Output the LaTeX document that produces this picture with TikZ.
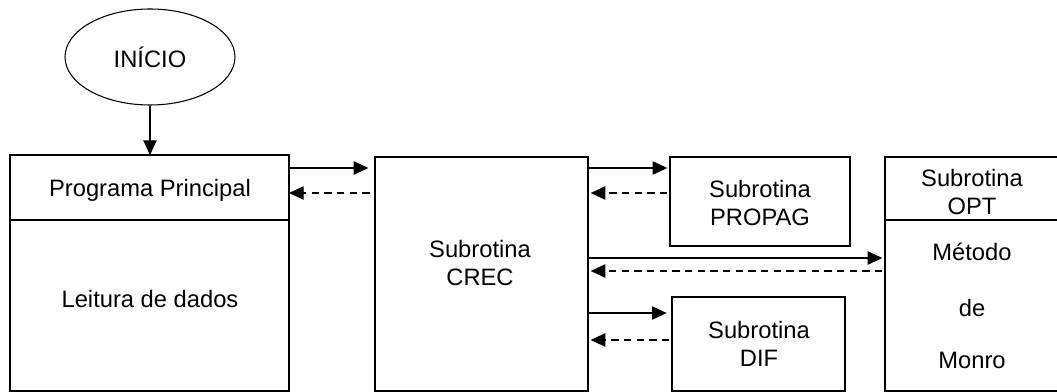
\documentclass[tikz,border=0pt]{standalone}
\usepackage{fontspec}
\setmainfont{Liberation Sans}
\usetikzlibrary{arrows.meta,shapes.geometric}
\begin{document}
\begin{tikzpicture}[x=0.75pt,y=-0.75pt,
  box/.style={draw,line width=2.2pt},
  txt/.style={font=\fontsize{17.8}{21}\selectfont,align=center,inner sep=0pt},
  call/.style={line width=1pt,-{Triangle[length=11pt,width=10pt]}},
  ret/.style={line width=1pt,dash pattern=on 5.5pt off 4pt,-{Triangle[length=11pt,width=10pt]}},
  sep/.style={line width=0.8pt}]
\clip (0,0) rectangle (1057,392);
\fill[white] (0,0) rectangle (1057,392);
% nodes
\node[ellipse,draw,line width=0.8pt,minimum width=127.5pt,minimum height=72pt,inner sep=0pt,font=\fontsize{17.8}{21}\selectfont] (ini) at (150,57) {INÍCIO};
\draw[box] (10,155) rectangle (289,391);
\coordinate (ppn) at (150,155);
\coordinate (ppe) at (289,155);
\draw[sep] (10,220) -- (289,220);
\node[txt] (pp) at (150,190) {Programa Principal};
\node[txt] (ld) at (150,299) {Leitura de dados};

\draw[box] (375,157) rectangle (588,391);
\coordinate (crw) at (375,157);
\coordinate (cre) at (588,157);
\node[txt] (crec) at (480,263) {Subrotina\\CREC};

\draw[box] (670,157) rectangle (850,246);
\coordinate (prw) at (670,157);
\node[txt] (prop) at (760,203) {Subrotina\\PROPAG};

\draw[box] (672,297) rectangle (845,391);
\coordinate (dfw) at (672,297);
\node[txt] (dif) at (759,344) {Subrotina\\DIF};

\draw[box] (885,157) rectangle (1060,391);
\coordinate (opw) at (885,157);
\draw[sep] (885,220) -- (1060,220);
\node[txt] (opt) at (972,192) {Subrotina\\OPT};
\node[txt] (met) at (972,252) {Método};
\node[txt] (de) at (972,308) {de};
\node[txt] (mon) at (972,360) {Monro};

% connectors
\draw[call] (ini.south) -- (ppn);
\draw[call] (ppe |- 0,168) -- ([xshift=-5]crw |- 0,168);
\draw[ret] ([xshift=-4]crw |- 0,193) -- (ppe |- 0,193);
\draw[call] (cre |- 0,168) -- ([xshift=-2]prw |- 0,168);
\draw[ret] ([xshift=-2]prw |- 0,193) -- ([xshift=2]cre |- 0,193);
\draw[call] (cre |- 0,258) -- ([xshift=-2]opw |- 0,258);
\draw[ret] ([xshift=-2]opw |- 0,271) -- ([xshift=2]cre |- 0,271);
\draw[call] (cre |- 0,313) -- ([xshift=-4]dfw |- 0,313);
\draw[ret] ([xshift=-2]dfw |- 0,340) -- ([xshift=2]cre |- 0,340);
\end{tikzpicture}
\end{document}
